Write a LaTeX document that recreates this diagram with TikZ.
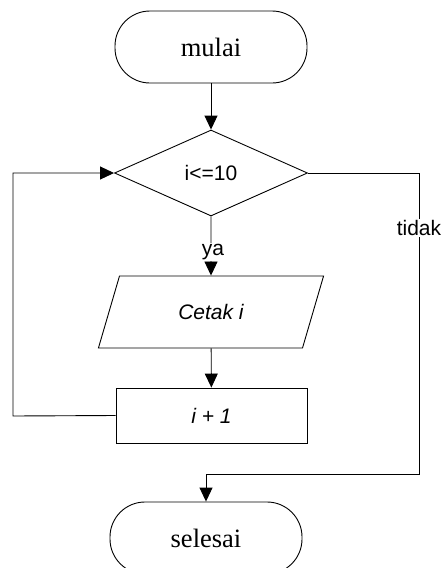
\documentclass[tikz,border=0pt]{standalone}
\usepackage{fontspec}
\setmainfont{Liberation Serif}
\setsansfont{Liberation Sans}
\usetikzlibrary{arrows.meta,shapes.geometric}

\tikzset{
  flow/.style={line width=0.9pt, draw=black},
  arr/.style={flow, -{Triangle[length=14pt,width=13pt]}},
  terminal/.style={flow, rectangle, rounded corners=35pt, minimum width=192pt,
    minimum height=72pt, inner sep=0pt, font=\fontsize{26.5}{30}\selectfont},
  decision/.style={flow, diamond, aspect=2.24, minimum width=193pt,
    minimum height=86pt, inner sep=0pt, font=\sffamily\fontsize{21}{24}\selectfont},
  iobox/.style={flow, trapezium, trapezium left angle=64, trapezium right angle=116,
    trapezium stretches=true, minimum width=226pt, minimum height=72pt, inner sep=0pt,
    font=\sffamily\itshape\fontsize{21}{24}\selectfont},
  process/.style={flow, rectangle, minimum width=191pt, minimum height=55pt,
    inner sep=0pt, font=\sffamily\itshape\fontsize{21}{24}\selectfont},
  lbl/.style={fill=white, inner sep=1.5pt, font=\sffamily\fontsize{21}{24}\selectfont}
}

\begin{document}
\begin{tikzpicture}[x=1pt,y=-1pt]
  \useasboundingbox (0,0) rectangle (442,568);
  \clip (0,0) rectangle (442,568);

  % flowchart blocks
  \node[terminal] (mulai) at (211,47) {mulai};
  \node[decision] (cek) at (211,173) {i<=10};
  \node[iobox] (cetak) at (211,312) {Cetak i};
  \node[process] (tambah) at (211.5,415.5) {i + 1};
  \node[terminal] (selesai) at (206,538) {selesai};

  % routing points for the loop and the exit branch
  \coordinate (kiri) at (13,416);
  \coordinate (kanan) at (419,474);

  % connectors
  \draw[arr] (mulai) -- (cek);
  \draw[arr] (cek.south) -- (cetak.north)
    node[lbl, pos=0.6, xshift=2pt] (ya) {ya};
  \draw[arr] (cetak) -- (tambah);
  \draw[arr] (tambah.west) -- (kiri) |- (cek.west);
  \draw[arr] (cek.east) -| (kanan) -| (selesai.north);
  \node[lbl] (tidak) at (419,228) {tidak};
\end{tikzpicture}
\end{document}
